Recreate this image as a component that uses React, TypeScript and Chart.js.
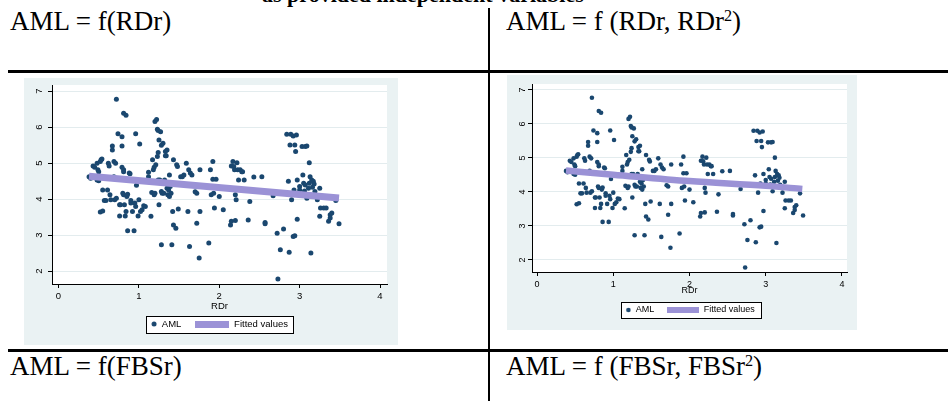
import React, { useEffect, useRef } from 'react';
import { Chart, registerables } from 'chart.js';

Chart.register(...registerables);

// ---------------- data ----------------
const RDR: number[] = [
  0.38, 0.40, 0.43, 0.45, 0.48, 0.49, 0.50, 0.52, 0.53, 0.50, 0.48, 0.54, 0.52, 0.55, 0.55, 0.57, 0.59,
  0.62, 0.63, 0.61, 0.64, 0.65, 0.67, 0.67, 0.69, 0.71, 0.69, 0.70, 0.72, 0.72, 0.74, 0.76, 0.76, 0.77,
  0.79, 0.79, 0.79, 0.81, 0.81, 0.80, 0.81, 0.81, 0.84, 0.82, 0.83, 0.84, 0.85, 0.86, 0.86, 0.88, 0.89,
  0.90, 0.90, 0.92, 0.94, 0.95, 0.96, 0.96, 0.97, 0.99, 1.00, 1.01, 1.02, 1.04, 1.06, 1.08, 1.12, 1.12,
  1.15, 1.16, 1.17, 1.18, 1.19, 1.19, 1.20, 1.20, 1.21, 1.22, 1.23, 1.23, 1.24, 1.24, 1.24, 1.25, 1.25,
  1.26, 1.27, 1.28, 1.28, 1.29, 1.28, 1.30, 1.31, 1.32, 1.33, 1.34, 1.35, 1.36, 1.37, 1.38, 1.38, 1.39,
  1.40, 1.41, 1.42, 1.43, 1.43, 1.46, 1.47, 1.48, 1.49, 1.52, 1.54, 1.56, 1.59, 1.61, 1.62, 1.64, 1.66,
  1.63, 1.72, 1.72, 1.76, 1.76, 1.75, 1.87, 1.89, 1.90, 1.92, 1.92, 1.93, 1.94, 1.96, 2.00, 2.05, 2.14,
  2.15, 2.15, 2.17, 2.18, 2.19, 2.20, 2.20, 2.21, 2.22, 2.24, 2.23, 2.26, 2.28, 2.29, 2.31, 2.36, 2.38,
  2.43, 2.53, 2.57, 2.57, 2.67, 2.72, 2.73, 2.76, 2.80, 2.84, 2.86, 2.87, 2.88, 2.89, 2.90, 2.92, 2.92,
  2.93, 2.94, 2.94, 2.95, 2.96, 2.97, 2.97, 3.00, 3.00, 3.03, 3.04, 3.05, 3.07, 3.07, 3.09, 3.09, 3.11,
  3.12, 3.12, 3.13, 3.14, 3.15, 3.16, 3.17, 3.18, 3.19, 3.22, 3.25, 3.25, 3.26, 3.30, 3.33, 3.36, 3.38,
  3.38, 3.40, 3.45, 3.49, 3.06, 1.70, 1.35, 1.33,
];
const AML: number[] = [
  4.62, 4.58, 4.92, 4.88, 4.99, 4.81, 4.76, 5.04, 5.09, 4.51, 4.53, 5.11, 3.64, 3.67, 4.25, 3.96, 3.96,
  4.99, 4.92, 4.25, 4.12, 3.98, 5.47, 5.36, 5.04, 4.99, 4.62, 3.98, 4.02, 6.77, 5.81, 3.84, 3.53, 3.84,
  5.73, 5.47, 4.88, 4.81, 4.76, 4.16, 4.12, 6.38, 6.33, 3.84, 3.53, 3.65, 4.07, 4.13, 3.12, 4.72, 4.70,
  3.96, 3.89, 3.65, 3.12, 3.89, 3.79, 5.81, 4.38, 3.53, 3.98, 5.53, 3.65, 3.70, 3.81, 3.79, 4.74, 4.62,
  3.52, 4.18, 5.09, 4.81, 4.88, 4.12, 4.16, 6.15, 4.95, 6.21, 5.18, 5.94, 4.53, 5.29, 5.90, 3.84, 5.64,
  4.53, 5.87, 5.49, 4.21, 4.16, 2.73, 5.55, 4.16, 4.53, 5.32, 5.20, 5.36, 4.12, 4.25, 4.67, 4.07, 4.35,
  4.16, 2.73, 3.65, 5.09, 3.28, 3.19, 4.95, 4.90, 3.72, 4.62, 4.62, 4.67, 4.99, 3.65, 4.81, 4.72, 4.67,
  2.68, 3.33, 4.16, 4.81, 3.65, 2.36, 2.78, 4.81, 4.12, 5.04, 4.55, 4.16, 3.75, 4.55, 4.07, 3.70, 3.28,
  3.38, 4.92, 5.04, 4.90, 4.81, 3.40, 4.12, 3.98, 5.01, 4.53, 4.81, 4.81, 4.76, 4.76, 4.53, 3.42, 3.93,
  4.61, 4.62, 3.35, 3.31, 4.09, 3.05, 1.78, 2.59, 3.17, 5.80, 4.49, 2.52, 5.50, 5.80, 3.98, 5.75, 2.96,
  4.25, 5.50, 2.98, 5.32, 5.78, 4.53, 3.44, 4.25, 4.35, 5.46, 4.67, 4.44, 4.39, 5.46, 5.47, 4.02, 4.30,
  5.01, 4.44, 4.62, 2.50, 4.53, 4.33, 4.49, 4.42, 4.21, 3.98, 4.30, 3.52, 3.75, 3.75, 3.75, 3.38, 3.56,
  3.47, 3.61, 3.96, 3.31, 4.22, 4.20, 4.30, 5.20,
];
const X_TICKS: number[] = [0, 1, 2, 3, 4];
const Y_TICKS: number[] = [2, 3, 4, 5, 6, 7];
const X_TITLE = 'RDr';
const SERIES_LABELS: string[] = ['AML', 'Fitted values'];
const FIT_LINEAR_X: number[] = [0.38, 3.49];
const FIT_LINEAR_Y: number[] = [4.63, 4.03];
const FIT_QUAD_X: number[] = [0.38, 1, 2, 3, 3.48];
const FIT_QUAD_Y: number[] = [4.63, 4.51, 4.32, 4.18, 4.09];

const PAGE_TITLE = 'as provided independent variables';

// ---------------- styles ----------------
const NAVY = '#1a476f';
const LAVENDER = '#9b92d6';
const PANEL_BG = '#eaf2f3';
const GRID = '#e3ecee';
const SANS = "'Liberation Sans', Arial, sans-serif";
const SERIF = "'Liberation Serif', 'Times New Roman', serif";

type Spec = {
  left: number; top: number; width: number; height: number; canvasDy: number;
  padTop: number; padRight: number; padBottom: number;
  yWidth: number; xHeight: number;
  xMin: number; xMax: number; yMin: number; yMax: number;
  font: number; radius: number; lineWidth: number;
  yPad: number; xPad: number; titlePadBottom: number;
  legendGap: number; boxW: number; barH: number;
  border: { l: number; r: number; t: number; b: number };
};

const SPEC_LEFT: Spec = {
  left: 24, top: 78, width: 374, height: 267, canvasDy: -5,
  padTop: 12, padRight: 11, padBottom: 6.25,
  yWidth: 28, xHeight: 21.25,
  xMin: -0.081, xMax: 4.087, yMin: 1.639, yMax: 7.167,
  font: 9.5, radius: 2.5, lineWidth: 7,
  yPad: 6, xPad: 3, titlePadBottom: -6.45,
  legendGap: 14, boxW: 34, barH: 7,
  border: { l: 8, r: 5, t: 8, b: 9 },
};

const SPEC_RIGHT: Spec = {
  left: 507, top: 75, width: 350, height: 255, canvasDy: 0,
  padTop: 9, padRight: 10, padBottom: 5.5,
  yWidth: 25, xHeight: 20.5,
  xMin: -0.066, xMax: 4.066, yMin: 1.647, yMax: 7.176,
  font: 9, radius: 2.3, lineWidth: 6.5,
  yPad: 3, xPad: 3, titlePadBottom: -3.9,
  legendGap: 13, boxW: 32, barH: 6,
  border: { l: 7, r: 6, t: 8, b: 8 },
};

const panelDecor = {
  id: 'panelDecor',
  beforeDraw(chart: any, _args: any, opts: any) {
    const { ctx, chartArea: a } = chart;
    ctx.save();
    ctx.fillStyle = '#ffffff';
    ctx.fillRect(a.left, a.top, a.right - a.left, a.bottom - a.top);
    const hb = chart.legend && chart.legend.legendHitBoxes;
    if (hb && hb.length) {
      const first = hb[0];
      const last = hb[hb.length - 1];
      const cx = first.left + opts.boxW - opts.r - 0.5;
      const cy = first.top + first.height / 2;
      const L = Math.round(cx - opts.border.l) + 0.5;
      const R = Math.round(last.left + last.width + opts.border.r) + 0.5;
      const T = Math.round(cy - opts.border.t) + 0.5;
      const B = Math.round(cy + opts.border.b) + 0.5;
      ctx.fillRect(L, T, R - L, B - T);
      ctx.strokeStyle = '#000';
      ctx.lineWidth = 1;
      ctx.strokeRect(L, T, R - L, B - T);
    }
    ctx.restore();
  },
};

function Panel({ spec, fitX, fitY, curved }: { spec: Spec; fitX: number[]; fitY: number[]; curved: boolean }) {
  const ref = useRef<HTMLCanvasElement>(null);
  useEffect(() => {
    const canvas = ref.current;
    if (!canvas) return;
    const dot = document.createElement('canvas');
    dot.width = spec.boxW; dot.height = 8;
    const dctx = dot.getContext('2d')!;
    dctx.fillStyle = NAVY;
    dctx.beginPath();
    dctx.arc(spec.boxW - spec.radius - 0.5, 4, spec.radius, 0, Math.PI * 2);
    dctx.fill();
    const bar = document.createElement('canvas');
    bar.width = spec.boxW; bar.height = spec.barH;
    const bctx = bar.getContext('2d')!;
    bctx.fillStyle = LAVENDER;
    bctx.fillRect(0, 0, spec.boxW, spec.barH);

    const font = { family: SANS, size: spec.font };
    const chart = new Chart(canvas, {
      type: 'scatter',
      data: {
        datasets: [
          {
            type: 'line',
            label: SERIES_LABELS[1],
            data: fitX.map((x, i) => ({ x, y: fitY[i] })),
            borderColor: LAVENDER,
            backgroundColor: LAVENDER,
            borderWidth: spec.lineWidth,
            pointRadius: 0,
            fill: false,
            cubicInterpolationMode: curved ? 'monotone' : 'default',
            tension: 0,
            borderCapStyle: 'butt',
          } as any,
          {
            type: 'scatter',
            label: SERIES_LABELS[0],
            data: RDR.map((x, i) => ({ x, y: AML[i] })),
            backgroundColor: NAVY,
            borderColor: NAVY,
            borderWidth: 0,
            pointRadius: spec.radius,
            pointHoverRadius: spec.radius,
          },
        ],
      },
      options: {
        animation: false,
        responsive: true,
        maintainAspectRatio: false,
        events: [],
        layout: { padding: { left: 0, top: spec.padTop, right: spec.padRight, bottom: spec.padBottom } },
        scales: {
          x: {
            type: 'linear',
            min: spec.xMin,
            max: spec.xMax,
            afterBuildTicks: (s: any) => { s.ticks = X_TICKS.map((v) => ({ value: v })); },
            afterFit: (s: any) => { s.height = spec.xHeight; },
            grid: { drawOnChartArea: false, drawTicks: true, tickLength: 4, tickColor: '#000', tickWidth: 1 },
            border: { display: true, color: '#000', width: 1 },
            ticks: { color: '#000', font, padding: spec.xPad, maxRotation: 0, autoSkip: false },
            title: { display: true, text: X_TITLE, color: '#000', font, padding: { top: 0, bottom: spec.titlePadBottom } },
          },
          y: {
            type: 'linear',
            min: spec.yMin,
            max: spec.yMax,
            afterBuildTicks: (s: any) => { s.ticks = Y_TICKS.map((v) => ({ value: v })); },
            afterFit: (s: any) => { s.width = spec.yWidth; },
            grid: { color: GRID, lineWidth: 1, drawTicks: true, tickLength: 4, tickColor: '#000', tickWidth: 1 },
            border: { display: true, color: '#000', width: 1 },
            ticks: { color: '#000', font, padding: spec.yPad, minRotation: 90, maxRotation: 90, crossAlign: 'center', autoSkip: false },
          },
        },
        plugins: {
          tooltip: { enabled: false },
          legend: {
            display: true,
            position: 'bottom',
            align: 'center',
            labels: {
              usePointStyle: true,
              pointStyleWidth: spec.boxW,
              padding: spec.legendGap,
              color: '#000',
              font,
              generateLabels: () => [
                { text: SERIES_LABELS[0], pointStyle: dot, fillStyle: NAVY, strokeStyle: NAVY, lineWidth: 0, hidden: false, datasetIndex: 1, fontColor: '#000' },
                { text: SERIES_LABELS[1], pointStyle: bar, fillStyle: LAVENDER, strokeStyle: LAVENDER, lineWidth: 0, hidden: false, datasetIndex: 0, fontColor: '#000' },
              ] as any,
            },
          },
          panelDecor: { boxW: spec.boxW, r: spec.radius, border: spec.border },
        } as any,
      },
      plugins: [panelDecor],
    });
    return () => chart.destroy();
  }, []);
  return (
    <div style={{ position: 'absolute', left: spec.left, top: spec.top, width: spec.width, height: spec.height, background: PANEL_BG }}>
      <div style={{ position: 'absolute', left: 0, top: spec.canvasDy, width: spec.width, height: spec.height - spec.canvasDy }}>
        <canvas ref={ref} />
      </div>
    </div>
  );
}

const sup: React.CSSProperties = { fontSize: '0.6em', position: 'relative', top: '-0.55em' };

export default function App() {
  const head: React.CSSProperties = { position: 'absolute', fontFamily: SERIF, fontSize: 27, lineHeight: 1, color: '#000', whiteSpace: 'nowrap' };
  return (
    <div style={{ position: 'absolute', left: 0, top: 0, width: 948, height: 401, background: '#fff', overflow: 'hidden' }}>
      <div style={{ ...head, left: 262, top: -16.4, fontSize: 22, fontWeight: 'bold' }}>{PAGE_TITLE}</div>
      <div style={{ ...head, left: 10, top: 8.4 }}>AML = f(RDr)</div>
      <div style={{ ...head, left: 506, top: 8.4 }}>AML = f (RDr, RDr<span style={sup}>2</span>)</div>
      <div style={{ ...head, left: 10, top: 353.4 }}>AML = f(FBSr)</div>
      <div style={{ ...head, left: 506, top: 353.4 }}>AML = f (FBSr, FBSr<span style={sup}>2</span>)</div>
      <div style={{ position: 'absolute', left: 488, top: 8, width: 2, height: 400, background: '#000' }} />
      <div style={{ position: 'absolute', left: 8, top: 70, width: 940, height: 3, background: '#000' }} />
      <div style={{ position: 'absolute', left: 8, top: 349, width: 940, height: 3, background: '#000' }} />
      <Panel spec={SPEC_LEFT} fitX={FIT_LINEAR_X} fitY={FIT_LINEAR_Y} curved={false} />
      <Panel spec={SPEC_RIGHT} fitX={FIT_QUAD_X} fitY={FIT_QUAD_Y} curved={true} />
    </div>
  );
}
